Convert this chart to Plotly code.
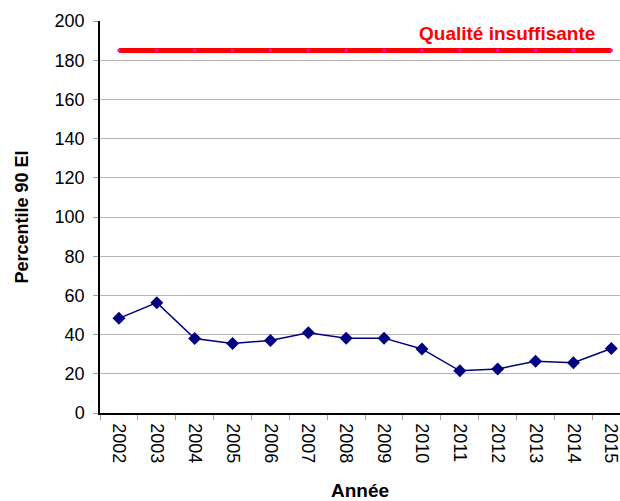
import plotly.graph_objects as go

# -- Data ---------------------------------------------------------------------

annees = ["2002", "2003", "2004", "2005", "2006", "2007", "2008",
          "2009", "2010", "2011", "2012", "2013", "2014", "2015"]
percentile_90 = [48.3, 56.3, 38.0, 35.5, 37.0, 40.9, 38.2,
                 38.2, 32.7, 21.5, 22.5, 26.4, 25.6, 32.9]
seuil_insuffisant = 185
seuil_label = "Qualité insuffisante"

FONT = "Liberation Sans, Arial, sans-serif"

fig = go.Figure()

fig.add_trace(go.Scatter(
    x=annees, y=[seuil_insuffisant] * len(annees),
    mode="lines+markers",
    line={"color": "#FF0000", "width": 5},
    marker={"symbol": "square", "size": 3, "color": "#FF00FF"},
    showlegend=False,
))

fig.add_trace(go.Scatter(
    x=annees, y=percentile_90,
    mode="lines+markers",
    line={"color": "#000080", "width": 1.5},
    marker={"symbol": "diamond", "size": 10, "color": "#000080"},
    showlegend=False,
))

fig.add_annotation(
    text=f"<b>{seuil_label}</b>",
    xref="paper", yref="y", x=0.955, y=193.4,
    xanchor="right", yanchor="middle", showarrow=False,
    font={"family": FONT, "size": 19, "color": "#FF0000"},
)

fig.update_layout(
    width=620, height=501,
    paper_bgcolor="white", plot_bgcolor="white",
    margin={"l": 100, "r": 0, "t": 21, "b": 88},
    font={"family": FONT, "size": 18, "color": "#000000"},
)

fig.update_xaxes(
    type="category",
    range=[-0.5, 13.23],
    automargin=False,
    tickson="boundaries",
    ticks="outside", ticklen=5, tickcolor="#a0a0a0",
    ticklabelstandoff=5,
    tickangle=90,
    showgrid=False,
    showline=True, linecolor="#000000", linewidth=1.5,
    title={"text": "<b>Année</b>", "font": {"size": 19}, "standoff": 21},
)

fig.update_yaxes(
    range=[0, 200], dtick=20,
    automargin=False,
    showgrid=True, gridcolor="#b4b4b4", gridwidth=1,
    zeroline=False,
    ticks="outside", ticklen=5, tickcolor="#a0a0a0",
    ticklabelstandoff=5,
    showline=True, linecolor="#000000", linewidth=1.5,
    title={"text": "<b>Percentile 90 EI</b>", "font": {"size": 18}, "standoff": 21},
)

# the page body has an 8px default margin; drop it so the figure sits at 0,0
fig.write_html(
    "out.html",
    config={"displayModeBar": False},
    post_script="document.body.style.margin = '0';",
)
